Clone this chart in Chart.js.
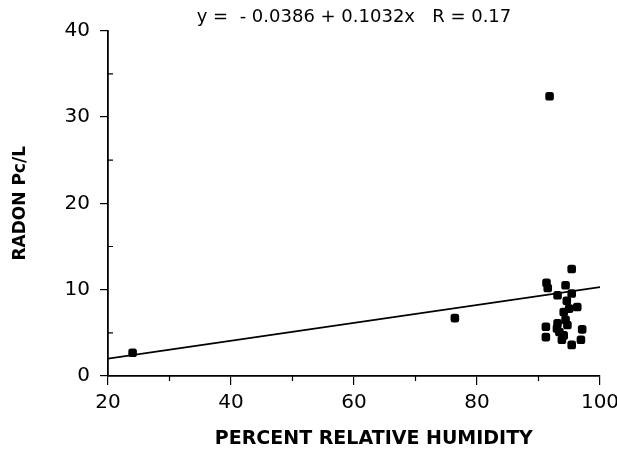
<!DOCTYPE html>
<html>
<head>
<meta charset="utf-8">
<script src="https://cdn.jsdelivr.net/npm/chart.js@4.4.1/dist/chart.umd.min.js"></script>
<style>
  html, body { margin: 0; padding: 0; background: #fff; }
  #wrap { width: 617px; height: 460px; position: relative; }
</style>
</head>
<body>
<div id="wrap"><canvas id="scatterChart"></canvas></div>
<script>
// humidity (%) and radon (pCi/L)
const humidity = [24, 76.4, 91.8, 95.4, 91.3, 91.5, 94.4, 93.1, 95.4, 94.6, 96.3, 95.0, 94.1,
  91.2, 91.2, 93.1, 94.4, 93.4, 94.1, 93.8, 95.4, 96.9, 97.1, 93.0, 94.7];
const radon = [2.7, 6.7, 32.4, 12.4, 10.8, 10.2, 10.5, 9.35, 9.55, 8.7, 8.0, 7.8, 7.4,
  5.7, 4.5, 6.1, 6.5, 5.1, 4.7, 4.2, 3.6, 4.2, 5.4, 5.5, 5.9];

// regression line end points
const fitX = [20, 100];
const fitY = [2.0, 10.3];

const xTicks = [20, 40, 60, 80, 100];
const yTicks = [0, 10, 20, 30, 40];
const xMinor = [30, 50, 70, 90];
const yMinor = [5, 15, 25, 35];

const ink = '#000';
const tickFont = { family: 'DejaVu Sans', size: 20 };

// short minor ticks (y inside, x below)
const minorTicks = {
  id: 'minorTicks',
  afterDraw(chart) {
    const ctx = chart.ctx;
    const xs = chart.scales.x, ys = chart.scales.y;
    ctx.save();
    ctx.strokeStyle = ink;
    ctx.lineWidth = 1.2;
    ctx.beginPath();
    yMinor.forEach(v => {
      const py = ys.getPixelForValue(v);
      ctx.moveTo(xs.left, py);
      ctx.lineTo(xs.left + 5, py);
    });
    xMinor.forEach(v => {
      const px = xs.getPixelForValue(v);
      ctx.moveTo(px, ys.bottom);
      ctx.lineTo(px, ys.bottom + 5);
    });
    ctx.stroke();
    ctx.restore();
  }
};

new Chart(document.getElementById('scatterChart'), {
  type: 'scatter',
  data: {
    datasets: [
      {
        label: 'Radon',
        data: humidity.map((h, i) => ({ x: h, y: radon[i] })),
        backgroundColor: ink,
        borderColor: ink,
        pointStyle: 'rectRounded',
        pointRadius: 5,
        pointBorderWidth: 0
      },
      {
        type: 'line',
        label: 'Fit',
        data: fitX.map((x, i) => ({ x: x, y: fitY[i] })),
        borderColor: ink,
        borderWidth: 1.8,
        pointRadius: 0,
        fill: false
      }
    ]
  },
  options: {
    responsive: true,
    maintainAspectRatio: false,
    animation: false,
    layout: { padding: { top: 0, right: 0, bottom: 0, left: 0 } },
    plugins: {
      legend: { display: false },
      tooltip: { enabled: false },
      title: {
        display: true,
        fullSize: false,
        text: 'y =  - 0.0386 + 0.1032x   R = 0.17',
        color: ink,
        font: { family: 'DejaVu Sans', size: 18, weight: 'normal' },
        padding: { top: 7, bottom: 2 }
      }
    },
    scales: {
      x: {
        type: 'linear',
        min: 20,
        max: 100,
        afterBuildTicks: s => { s.ticks = xTicks.map(v => ({ value: v })); },
        ticks: { color: ink, font: tickFont, padding: 6 },
        grid: { drawOnChartArea: false, color: ink, tickLength: 9, lineWidth: 1.2 },
        border: { color: ink, width: 1.8 },
        title: {
          display: true,
          text: '      PERCENT RELATIVE HUMIDITY',
          color: ink,
          font: { family: 'DejaVu Sans', size: 19, weight: 'bold' },
          padding: { top: 4, bottom: 10 }
        },
        afterFit: s => { s.height = 84; s.paddingRight = 17; }
      },
      y: {
        type: 'linear',
        min: 0,
        max: 40,
        afterBuildTicks: s => { s.ticks = yTicks.map(v => ({ value: v })); },
        ticks: { color: ink, font: tickFont, padding: 10 },
        grid: { drawOnChartArea: false, color: ink, tickLength: 8, lineWidth: 1.2 },
        border: { color: ink, width: 1.8 },
        title: {
          display: true,
          text: 'RADON Pc/L',
          color: ink,
          font: { family: 'DejaVu Sans', size: 17, weight: 'bold' },
          padding: { top: 10, bottom: 4 }
        },
        afterFit: s => { s.width = 108; }
      }
    }
  },
  plugins: [minorTicks]
});
</script>
</body>
</html>
